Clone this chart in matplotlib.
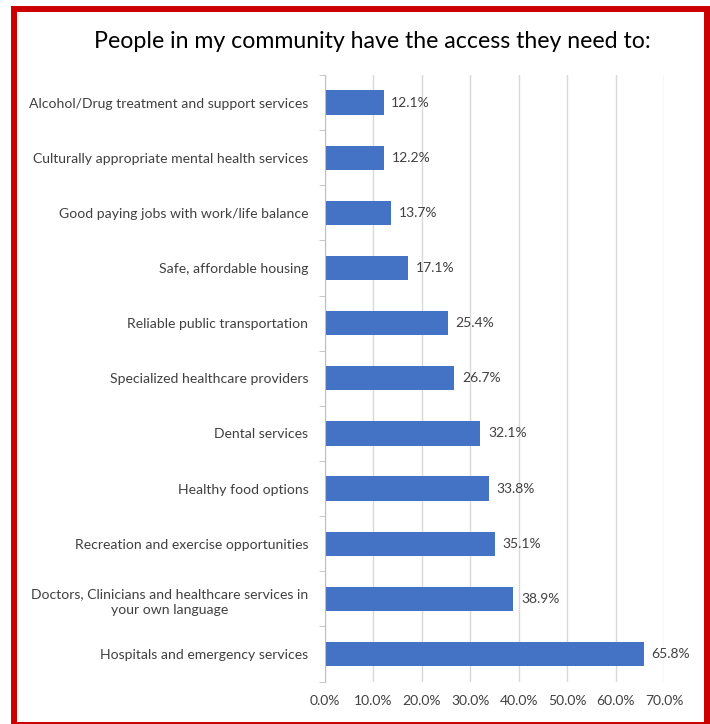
import matplotlib

matplotlib.use("Agg")
import matplotlib.pyplot as plt
from matplotlib.patches import Rectangle
from matplotlib.ticker import FixedLocator

categories = [
    "Alcohol/Drug treatment and support services",
    "Culturally appropriate mental health services",
    "Good paying jobs with work/life balance",
    "Safe, affordable housing",
    "Reliable public transportation",
    "Specialized healthcare providers",
    "Dental services",
    "Healthy food options",
    "Recreation and exercise opportunities",
    "Doctors, Clinicians and healthcare services in\nyour own language",
    "Hospitals and emergency services",
]
percent = [12.1, 12.2, 13.7, 17.1, 25.4, 26.7, 32.1, 33.8, 35.1, 38.9, 65.8]
x_ticks = [0, 10, 20, 30, 40, 50, 60, 70]

BAR_COLOR = "#4472C4"
TEXT_COLOR = "#404040"
GRID_COLOR = "#D9D9D9"
FONT = "Lato"

fig = plt.figure(figsize=(7.10, 7.24), dpi=100)
fig.patch.set_facecolor("white")
ax = fig.add_axes([0.4577, 0.0587, 0.4775, 0.8377])

positions = list(range(len(categories)))
ax.barh(positions, percent, height=0.44, color=BAR_COLOR, zorder=3)
for y, value in zip(positions, percent):
    ax.text(value + 1.6, y, f"{value:.1f}%", va="center", ha="left",
            fontsize=10, color=TEXT_COLOR, family=FONT)

ax.set_xlim(0, 70)
ax.set_ylim(len(categories) - 0.5, -0.5)
ax.set_xticks(x_ticks)
ax.set_xticklabels([f"{t:.1f}%" for t in x_ticks], fontsize=10,
                   color=TEXT_COLOR, family=FONT)
ax.set_yticks(positions)
ax.set_yticklabels(categories, fontsize=10.1, color=TEXT_COLOR, family=FONT)
for label in ax.get_yticklabels():
    label.set_multialignment("center")
    label.set_linespacing(1.45)

# category boundary ticks on the value axis, no ticks at the label centres
ax.yaxis.set_minor_locator(FixedLocator([p - 0.5 for p in positions] + [len(categories) - 0.5]))
ax.tick_params(axis="y", which="major", length=0, pad=12)
ax.tick_params(axis="y", which="minor", length=4, color="#BFBFBF", direction="out")
ax.tick_params(axis="x", length=0, pad=10)

ax.grid(axis="x", color=GRID_COLOR, linewidth=1, zorder=0)
for side in ("top", "right", "bottom"):
    ax.spines[side].set_visible(False)
ax.spines["left"].set_color("#BFBFBF")
ax.spines["left"].set_zorder(4)

fig.text(0.524, 0.942, "People in my community have the access they need to:",
         ha="center", va="center", fontsize=16.7, color="black", family=FONT)

# red frame around the whole chart
fig.add_artist(Rectangle((14 / 710, -1 / 724), 692.5 / 710, 716 / 724,
                         transform=fig.transFigure, fill=False,
                         edgecolor="#CC0000", linewidth=4.3))

fig.savefig("out.png", dpi=100)
